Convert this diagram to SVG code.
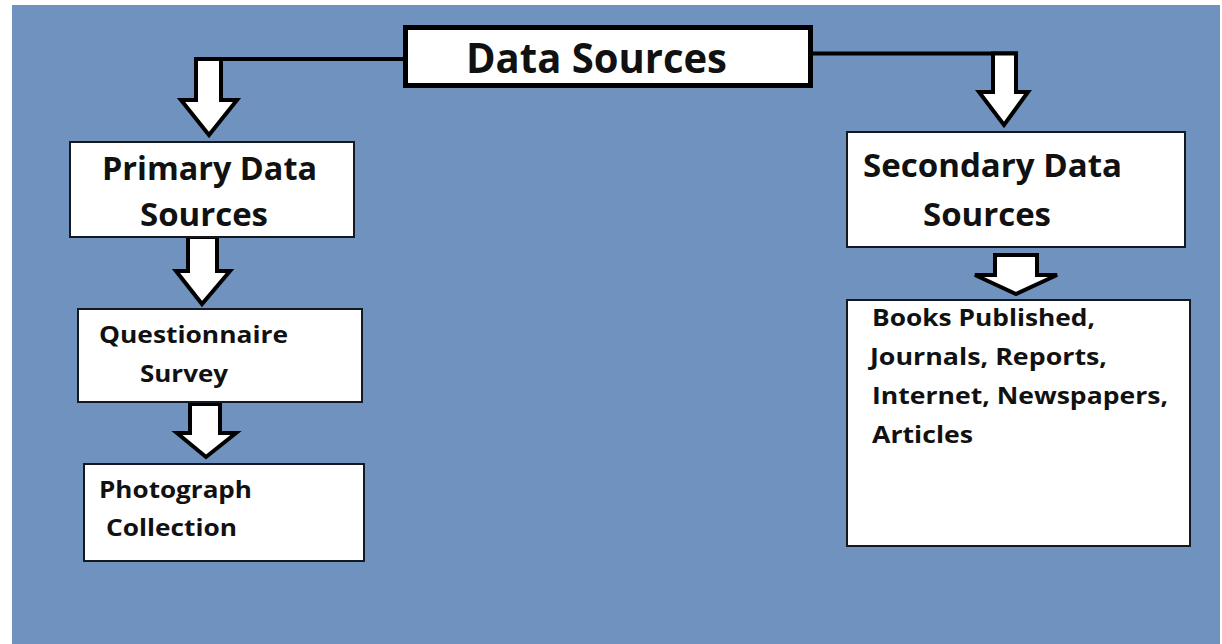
<svg xmlns="http://www.w3.org/2000/svg" width="1222" height="644" viewBox="0 0 1222 644">
<style>
.box{fill:#ffffff;stroke:#141820;stroke-width:2}
.main{fill:#ffffff;stroke:#000000;stroke-width:5}
.arr{fill:#ffffff;stroke:#000000;stroke-width:4;stroke-linejoin:miter}
.ln{fill:none;stroke:#000000;stroke-width:4}
text{font-family:"Open Sans","Noto Sans","DejaVu Sans",sans-serif;font-weight:700;fill:#111111}
</style>
<rect x="0" y="0" width="1222" height="644" fill="#ffffff"/>
<rect x="12" y="5" width="1208" height="639" fill="#6f92bf"/>
<g id="connectors">
<line class="ln" x1="194" y1="59" x2="404" y2="59"/>
<line class="ln" x1="812" y1="53.5" x2="1018" y2="53.5"/>
<path class="arr" d="M196,59 L221,59 L221,100 L237,100 L209,135 L181,100 L196,100 Z"/>
<path class="arr" d="M993,53.5 L1016,53.5 L1016,92 L1028,92 L1004,125 L979,92 L993,92 Z"/>
<path class="arr" d="M188,237 L217,237 L217,271 L230,271 L202,304 L176,271 L188,271 Z"/>
<path class="arr" d="M190,404 L220,404 L220,433 L236,433 L206,457 L177,433 L190,433 Z"/>
<path class="arr" d="M995,255 L1037,255 L1037,275 L1057,275 L1016,294 L975,275 L995,275 Z"/>
</g>
<g id="data-sources">
<rect class="main" x="405.5" y="27.5" width="405" height="58"/>
<text x="466" y="73" font-size="42" textLength="261" lengthAdjust="spacingAndGlyphs">Data Sources</text>
</g>
<g id="primary">
<rect class="box" x="70" y="142" width="284" height="95"/>
<text x="102" y="180" font-size="33" textLength="215" lengthAdjust="spacingAndGlyphs">Primary Data</text>
<text x="140" y="226" font-size="33" textLength="128" lengthAdjust="spacingAndGlyphs">Sources</text>
</g>
<g id="secondary">
<rect class="box" x="847" y="132" width="338" height="115"/>
<text x="863" y="177" font-size="33" textLength="259" lengthAdjust="spacingAndGlyphs">Secondary Data</text>
<text x="923" y="226" font-size="33" textLength="128" lengthAdjust="spacingAndGlyphs">Sources</text>
</g>
<g id="questionnaire">
<rect class="box" x="78" y="309" width="284" height="93"/>
<text x="99" y="343" font-size="23" textLength="189" lengthAdjust="spacingAndGlyphs">Questionnaire</text>
<text x="140" y="382" font-size="23" textLength="88" lengthAdjust="spacingAndGlyphs">Survey</text>
</g>
<g id="photograph">
<rect class="box" x="84" y="464" width="280" height="97"/>
<text x="99" y="498" font-size="23" textLength="153" lengthAdjust="spacingAndGlyphs">Photograph</text>
<text x="106" y="536" font-size="23" textLength="131" lengthAdjust="spacingAndGlyphs">Collection</text>
</g>
<g id="books">
<rect class="box" x="847" y="300" width="343" height="246"/>
<text x="872" y="326" font-size="23" textLength="223" lengthAdjust="spacingAndGlyphs">Books Published,</text>
<text x="870" y="365" font-size="23" textLength="237" lengthAdjust="spacingAndGlyphs">Journals, Reports,</text>
<text x="872" y="404" font-size="23" textLength="296" lengthAdjust="spacingAndGlyphs">Internet, Newspapers,</text>
<text x="872" y="443" font-size="23" textLength="101" lengthAdjust="spacingAndGlyphs">Articles</text>
</g>
</svg>
